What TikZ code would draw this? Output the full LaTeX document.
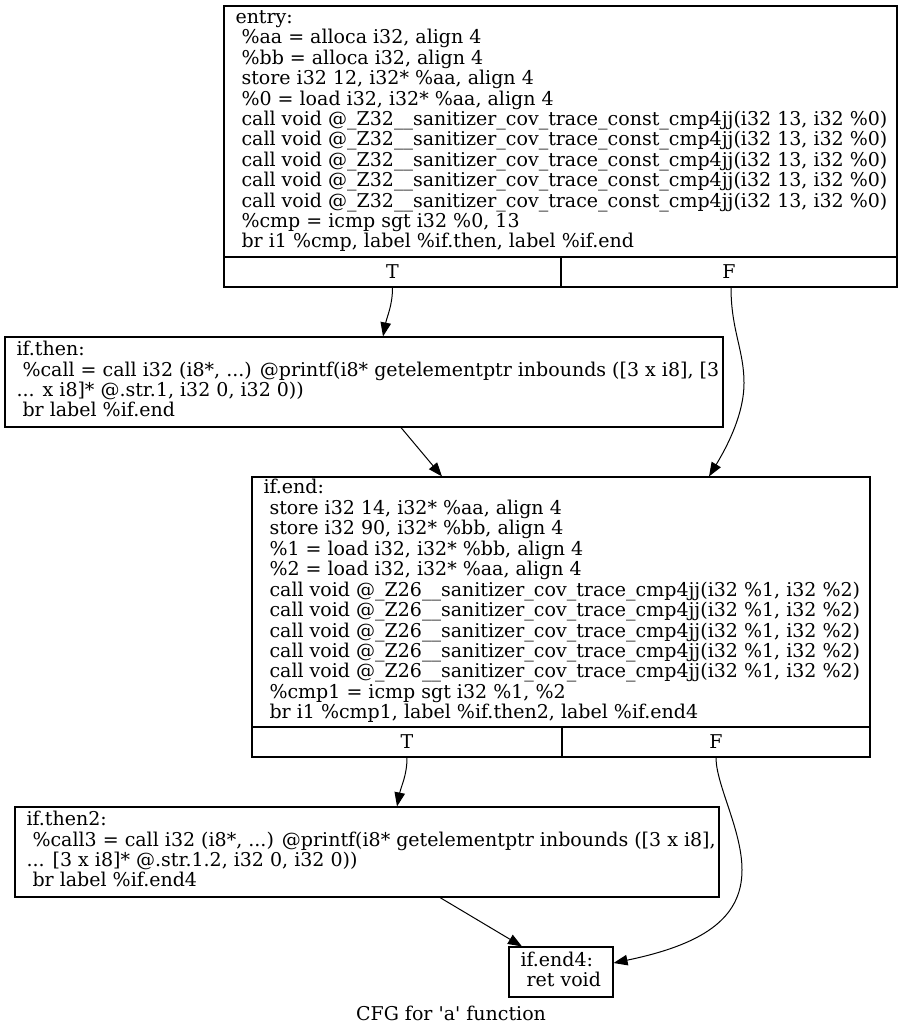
\documentclass[tikz,border=0pt]{standalone}
\usepackage{fontspec}
\setmainfont{DejaVu Serif}
\usetikzlibrary{arrows.meta}

% left-aligned block of code lines, set in a box of fixed width
\newcommand\codeblock[2]{\makebox[#1][l]{\begin{tabular}{@{}l@{}}#2\end{tabular}}}
\newcommand\constcall{\ call void @\_Z32\_\_sanitizer\_cov\_trace\_const\_cmp4jj(i32 13, i32 \%0)}
\newcommand\cmpcall{\ call void @\_Z26\_\_sanitizer\_cov\_trace\_cmp4jj(i32 \%1, i32 \%2)}

\begin{document}
\begin{tikzpicture}[x=1pt,y=-1pt,
  codefont/.style={font=\fontsize{19pt}{20pt}\selectfont},
  bb/.style={draw, line width=1.1pt, codefont, inner xsep=11.5pt, inner ysep=0pt, anchor=center},
  cell/.style={draw, line width=1.1pt, codefont, inner sep=0pt, anchor=center, minimum height=30pt},
  flow/.style={line width=1pt, -{Triangle[length=14pt,width=10.5pt]}}]
\useasboundingbox (0,0) rectangle (904,1035);

% entry block with its T/F row
\node[bb, minimum width=673pt, minimum height=251pt] (entry) at (560.5,131.5)
  {\raisebox{-1.5pt}{\codeblock{650pt}{entry:\\
  \ \%aa = alloca i32, align 4\\
  \ \%bb = alloca i32, align 4\\
  \ store i32 12, i32* \%aa, align 4\\
  \ \%0 = load i32, i32* \%aa, align 4\\
  \constcall\\ \constcall\\ \constcall\\ \constcall\\ \constcall\\
  \ \%cmp = icmp sgt i32 \%0, 13\\
  \ br i1 \%cmp, label \%if.then, label \%if.end}}};
\node[cell, minimum width=337pt] (entryT) at (392.5,272) {T};
\node[cell, minimum width=336pt] (entryF) at (729,272) {F};

% if.then block
\node[bb, minimum width=718pt, minimum height=90pt] (ifthen) at (364,382)
  {\codeblock{695pt}{if.then:\\
  \ \%call = call i32 (i8*, ...) @printf(i8* getelementptr inbounds ([3 x i8], [3\\
  ... x i8]* @.str.1, i32 0, i32 0))\\
  \ br label \%if.end}};

% if.end block with its T/F row
\node[bb, minimum width=618pt, minimum height=250pt] (ifend) at (561,602)
  {\codeblock{595pt}{if.end:\\
  \ store i32 14, i32* \%aa, align 4\\
  \ store i32 90, i32* \%bb, align 4\\
  \ \%1 = load i32, i32* \%bb, align 4\\
  \ \%2 = load i32, i32* \%aa, align 4\\
  \cmpcall\\ \cmpcall\\ \cmpcall\\ \cmpcall\\ \cmpcall\\
  \ \%cmp1 = icmp sgt i32 \%1, \%2\\
  \ br i1 \%cmp1, label \%if.then2, label \%if.end4}};
\node[cell, minimum width=310pt] (ifendT) at (407,742) {T};
\node[cell, minimum width=308pt] (ifendF) at (716,742) {F};

% if.then2 block
\node[bb, minimum width=704pt, minimum height=90pt] (ifthentwo) at (367,852)
  {\codeblock{681pt}{if.then2:\\
  \ \%call3 = call i32 (i8*, ...) @printf(i8* getelementptr inbounds ([3 x i8],\\
  ... [3 x i8]* @.str.1.2, i32 0, i32 0))\\
  \ br label \%if.end4}};

% if.end4 block
\node[bb, minimum width=104pt, minimum height=50pt] (ifendfour) at (561,972)
  {\codeblock{81pt}{if.end4:\\ \ ret void}};

% caption
\node[codefont, inner sep=0pt] (caption) at (451,1013) {CFG for \textquotesingle a\textquotesingle{} function};

% control-flow edges
\draw[flow] (entryT.south) .. controls +(0,18) and +(4,-20) .. ([xshift=19pt]ifthen.north);
\draw[flow] ([xshift=2pt]entryF.south) .. controls (731,330) and (744,350) .. (744,383)
  .. controls (744,416) and (725,450) .. ([xshift=148pt]ifend.north);
\draw[flow] ([xshift=37pt]ifthen.south) -- ([xshift=-119pt]ifend.north);
\draw[flow] (ifendT.south) .. controls +(0,18) and +(4,-20) .. ([xshift=30pt]ifthentwo.north);
\draw[flow] (ifendF.south) .. controls (716,785) and (742,830) .. (742,870)
  .. controls (742,920) and (700,945) .. ([yshift=9pt]ifendfour.east);
\draw[flow] ([xshift=73pt]ifthentwo.south) -- ([xshift=-39pt]ifendfour.north);
\end{tikzpicture}
\end{document}
